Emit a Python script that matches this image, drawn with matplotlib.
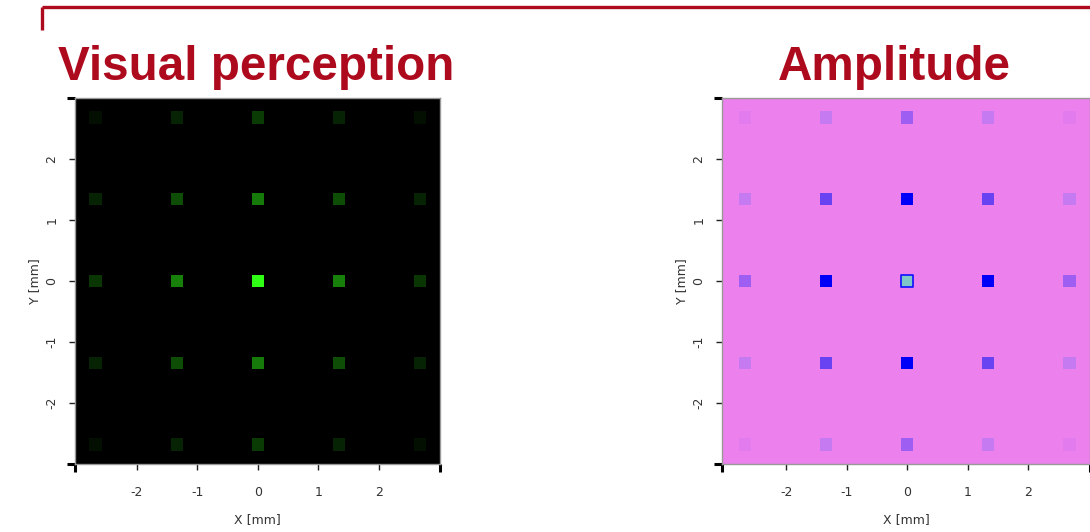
import numpy as np
import matplotlib
matplotlib.use("Agg")
import matplotlib.pyplot as plt
from matplotlib.colors import LinearSegmentedColormap
from matplotlib.lines import Line2D

plt.rcParams["axes.unicode_minus"] = False

# ---- data ----
grid_x = [-2.68, -1.34, 0.0, 1.34, 2.68]
grid_y = [2.68, 1.34, 0.0, -1.34, -2.68]
# perceived green brightness (rows top->bottom, cols left->right)
visual = [
    [0.06, 0.14, 0.23, 0.14, 0.06],
    [0.14, 0.30, 0.48, 0.30, 0.14],
    [0.21, 0.50, 1.00, 0.50, 0.21],
    [0.14, 0.30, 0.48, 0.30, 0.14],
    [0.06, 0.14, 0.23, 0.14, 0.06],
]
# amplitude (rows top->bottom)
amplitude = [
    [0.10, 0.30, 0.55, 0.30, 0.10],
    [0.30, 0.70, 0.88, 0.70, 0.30],
    [0.55, 0.88, 1.00, 0.88, 0.55],
    [0.30, 0.70, 0.88, 0.70, 0.30],
    [0.10, 0.30, 0.55, 0.30, 0.10],
]
x_ticks = [-2, -1, 0, 1, 2]
y_ticks = [-2, -1, 0, 1, 2]
titles = ["Visual perception", "Amplitude"]

RED = "#AE0A1E"
W, H = 1090, 532
fig = plt.figure(figsize=(W / 100, H / 100), dpi=100)

# bracket line
fig.add_artist(Line2D([42 / W, 1.0], [1 - 7 / H, 1 - 7 / H], color=RED, lw=2.4,
                      solid_capstyle="butt", transform=fig.transFigure))
fig.add_artist(Line2D([42 / W, 42 / W], [1 - 7 / H, 1 - 30 / H], color=RED, lw=2.4,
                      solid_capstyle="butt", transform=fig.transFigure))

amp_cmap = LinearSegmentedColormap.from_list("amp", [
    (0.0, "#EC80EC"),
    (0.10, "#E27CEE"),
    (0.30, "#C67AF2"),
    (0.55, "#9E5EF2"),
    (0.70, "#6A44F2"),
    (0.88, "#0000F8"),
    (0.95, "#0000F8"),
    (1.0, "#80C8C8"),
])

XX, YY = np.meshgrid(grid_x, grid_y)
axes_rects = [
    [75 / W, 68 / H, 365 / W, 366 / H],
    [722 / W, 68 / H, 368 / W, 366 / H],
]
xlims = [(-3.02, 3.01), (-3.06, 3.02)]
title_x = [256 / W, 894 / W]

for i, rect in enumerate(axes_rects):
    ax = fig.add_axes(rect)
    ax.set_xlim(*xlims[i])
    ax.set_ylim(-3.0, 3.0)
    vals = np.array(visual if i == 0 else amplitude)
    if i == 0:
        ax.set_facecolor("black")
        cols = [(0.18 * v, v, 0.08 * v) for v in vals.ravel()]
        ax.scatter(XX.ravel(), YY.ravel(), c=cols, marker="s", s=78, linewidths=0)
    else:
        ax.set_facecolor("#EC80EC")
        ec = ["#1010FF" if v >= 1.0 else "none" for v in vals.ravel()]
        ax.scatter(XX.ravel(), YY.ravel(), c=vals.ravel(), cmap=amp_cmap, vmin=0, vmax=1,
                   marker="s", s=78, edgecolors=ec, linewidths=1.2)
    ax.set_xticks(x_ticks)
    ax.set_yticks(y_ticks)
    ax.set_xticks([xlims[i][0], xlims[i][1]], minor=True)
    ax.set_yticks([-3.0, 3.0], minor=True)
    ax.tick_params(which="major", direction="out", length=4, width=1, color="#222222",
                   labelsize=9, labelcolor="#333333")
    ax.tick_params(axis="x", which="major", pad=12)
    ax.tick_params(axis="y", which="major", pad=8)
    ax.tick_params(which="minor", direction="out", length=6, width=2.2, color="black")
    for lab in ax.get_yticklabels():
        lab.set_rotation(90)
        lab.set_va("center")
    for s in ax.spines.values():
        s.set_color("#999999")
        s.set_linewidth(1)
    ax.set_xlabel("X [mm]", fontsize=9, color="#333333", labelpad=10)
    ax.set_ylabel("Y [mm]", fontsize=9, color="#333333")
    ax.yaxis.set_label_coords(-34 / rect[2] / W, 0.5)
    fig.text(title_x[i], 1 - 68 / H, titles[i], ha="center", va="center",
             fontsize=34.3, fontweight="bold", color=RED, family="Liberation Sans")

fig.savefig("out.png", dpi=100)
